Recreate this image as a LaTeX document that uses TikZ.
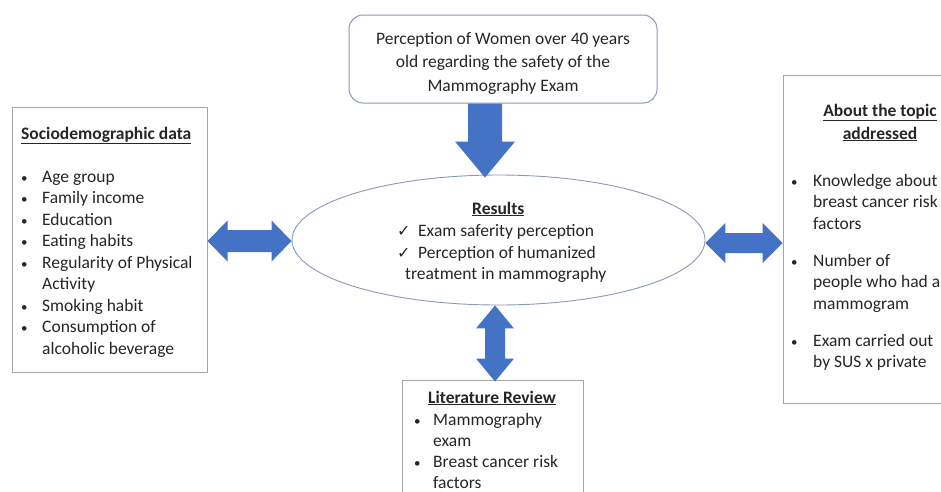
\documentclass[tikz,border=0pt]{standalone}
\usepackage{fontspec}
\setmainfont{Carlito}
\newfontfamily\symfont{DejaVu Sans}
\usetikzlibrary{shapes.geometric,calc}
\definecolor{arrowblue}{HTML}{4472C4}
\definecolor{boxgray}{HTML}{A6A6A6}
\definecolor{ellline}{HTML}{8A99B4}
\definecolor{txtcol}{HTML}{262626}
\newcommand\chkmark{\makebox[21pt][l]{\symfont\fontsize{16}{16}\selectfont ✓}}
\newcommand\blt{{\fontsize{13}{13}\selectfont •}}
\begin{document}
\begin{tikzpicture}[x=1pt,y=-1pt,
  box/.style={draw=boxgray, line width=1pt, fill=white, inner sep=0pt},
  topbox/.style={draw=ellline, line width=1pt, fill=white, inner sep=0pt, rounded corners=14pt},
  ellbox/.style={ellipse, draw=ellline, line width=0.9pt, fill=white, inner sep=0pt},
  txt/.style={inner sep=0pt, text=txtcol, font=\fontsize{17.5}{21.5}\selectfont},
  blockarrow/.style={fill=arrowblue, draw=none}]
\useasboundingbox (0,0) rectangle (941,491);
\clip (0,0) rectangle (941,491);
\fill[white] (0,0) rectangle (941,491);

% boxes
\node[topbox, minimum width=308pt, minimum height=88pt] (top) at (503,59) {};
\node[box, minimum width=194.5pt, minimum height=265pt] (sd) at (109.75,239.5) {};
\node[box, minimum width=177pt, minimum height=328pt] (rt) at (871.5,239) {};
\node[box, minimum width=181pt, minimum height=130pt] (lit) at (492.5,445) {};
\node[ellbox, minimum width=413pt, minimum height=130pt] (res) at (498.5,240) {};

% top text
\node[txt, anchor=base, font=\fontsize{17.5}{23.5}\selectfont] (toptext) at (503,44)
  {\begin{tabular}[t]{@{}c@{}}Perception of Women over 40 years\\ old regarding the safety of the\\ Mammography Exam\end{tabular}};

% results text
\node[txt, anchor=base west] (r1) at (472,214) {\underline{\textbf{Results}}};
\node[txt, anchor=base west] (r2) at (397,236) {\chkmark Exam saferity perception};
\node[txt, anchor=base west] (r3) at (397,258) {\chkmark Perception of humanized};
\node[txt, anchor=base west] (r4) at (405,279.5) {treatment in mammography};

% left list
\node[txt, anchor=base west] (sdtext) at (21,139)
  {\begin{tabular}[t]{@{}p{21pt}@{}l@{}}
  \multicolumn{2}{@{}l@{}}{\underline{\textbf{Sociodemographic data}}}\\[21.5pt]
  \blt&Age group\\
  \blt&Family income\\
  \blt&Education\\
  \blt&Eating habits\\
  \blt&Regularity of Physical\\
  &Activity\\
  \blt&Smoking habit\\
  \blt&Consumption of\\
  &alcoholic beverage
  \end{tabular}};

% right heading and list
\node[txt, anchor=base] (rthead) at (880,116)
  {\begin{tabular}[t]{@{}c@{}}\underline{\textbf{About the topic}}\\[1.5pt] \underline{\textbf{addressed}}\end{tabular}};
\node[txt, anchor=base west] (rtlist) at (791,186)
  {\begin{tabular}[t]{@{}p{22pt}@{}l@{}}
  \blt&Knowledge about\\
  &breast cancer risk\\
  &factors\\[15.5pt]
  \blt&Number of\\
  &people who had a\\
  &mammogram\\[15.5pt]
  \blt&Exam carried out\\
  &by SUS x private
  \end{tabular}};

% bottom heading and list
\node[txt, anchor=base] (lithead) at (492,403) {\underline{\textbf{Literature Review}}};
\node[txt, anchor=base west, font=\fontsize{17.5}{21}\selectfont] (litlist) at (414,425.5)
  {\begin{tabular}[t]{@{}p{19pt}@{}l@{}}
  \blt&Mammography\\
  &exam\\
  \blt&Breast cancer risk\\
  &factors
  \end{tabular}};

% arrows
\coordinate (d1) at ($(top.south)+(-18,0)$);
\coordinate (d2) at ($(res.north)+(-13.5,3)$);
\fill[blockarrow] ($(d1)+(-17pt,0pt)$) -- ($(d2)+(-17pt,36pt)$) -- ++(-13pt,0pt) -- (d2)
  -- ++(30pt,36pt) -- ++(-13pt,0pt) -- ($(d1)+(17pt,0pt)$) -- cycle;

\coordinate (la) at ($(sd.east)+(0,1.5)$);
\coordinate (lb) at ($(res.west)+(0,1)$);
\fill[blockarrow] (la) -- ++(20pt,20.5pt) -- ++(0pt,-9.5pt) -- ($(lb)+(-20pt,11pt)$) -- ++(0pt,9.5pt)
  -- (lb) -- ++(-20pt,-20.5pt) -- ++(0pt,9.5pt) -- ($(la)+(20pt,-11pt)$) -- ++(0pt,-9.5pt) -- cycle;

\coordinate (ra) at ($(res.east)+(0,3)$);
\coordinate (rb) at ($(rt.west)+(0,4)$);
\fill[blockarrow] (ra) -- ++(20pt,20pt) -- ++(0pt,-10pt) -- ($(rb)+(-20pt,10pt)$) -- ++(0pt,10pt)
  -- (rb) -- ++(-20pt,-20pt) -- ++(0pt,10pt) -- ($(ra)+(20pt,-10pt)$) -- ++(0pt,-10pt) -- cycle;

\coordinate (va) at ($(res.south)+(-3.5,0)$);
\coordinate (vb) at ($(lit.north)+(2.5,2)$);
\fill[blockarrow] (va) -- ++(19pt,-23pt) -- ++(-9pt,0pt) -- ($(vb)+(10pt,23pt)$) -- ++(9pt,0pt)
  -- (vb) -- ++(-19pt,23pt) -- ++(9pt,0pt) -- ($(va)+(-10pt,-23pt)$) -- ++(-9pt,0pt) -- cycle;
\end{tikzpicture}
\end{document}
